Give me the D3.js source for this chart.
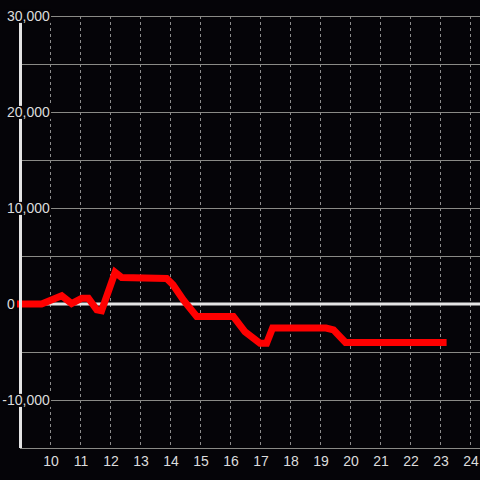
<!DOCTYPE html>
<html>
<head>
<meta charset="utf-8">
<script src="https://cdn.jsdelivr.net/npm/d3@7"></script>
<style>
  html, body { margin: 0; padding: 0; background: #050408; }
  svg { display: block; }
  text { font-family: "Liberation Sans", Arial, sans-serif; }
</style>
</head>
<body>
<svg id="chart" width="480" height="480"></svg>
<script>
// ---- data ----
const xValues = [8.9, 9.72, 10.39, 10.72, 11.06, 11.28, 11.56, 11.72, 12.17, 12.39, 13.89, 14.1, 14.45, 14.89, 16.11, 16.5, 17.0, 17.22, 17.42, 19.2, 19.45, 19.85, 23.22];
const yValues = [0, 0, 850, 50, 600, 600, -600, -700, 3300, 2750, 2650, 2000, 400, -1300, -1300, -2900, -4100, -4100, -2500, -2500, -2700, -4000, -4000];
const xTicks = [10, 11, 12, 13, 14, 15, 16, 17, 18, 19, 20, 21, 22, 23, 24];
const yTicks = [-10000, 0, 10000, 20000, 30000];
const yGrid = [-15000, -10000, -5000, 5000, 10000, 15000, 20000, 25000, 30000];

const svg = d3.select("#chart");
const W = 480, H = 480;
svg.append("rect").attr("width", W).attr("height", H).attr("fill", "#050408");

const x = d3.scaleLinear().domain([9, 24.3333]).range([20, 480]);
const y = d3.scaleLinear().domain([-15000, 30000]).range([448, 16]);
const fmt = d3.formatLocale({decimal: ".", thousands: ",", grouping: [3], currency: ["", ""], minus: "-"}).format(",");

// vertical dashed grid
svg.append("g").selectAll("line").data(xTicks).join("line")
  .attr("x1", d => Math.round(x(d)) + 0.5).attr("x2", d => Math.round(x(d)) + 0.5)
  .attr("y1", y(30000)).attr("y2", y(-15000))
  .attr("stroke", "#8c8c8c").attr("stroke-width", 1).attr("stroke-dasharray", "3,3");

// horizontal grid
svg.append("g").selectAll("line").data(yGrid).join("line")
  .attr("x1", 20).attr("x2", W)
  .attr("y1", d => Math.round(y(d)) + 0.5).attr("y2", d => Math.round(y(d)) + 0.5)
  .attr("stroke", "#8a8a86").attr("stroke-width", 1);

// zero line
svg.append("line")
  .attr("x1", 20).attr("x2", W).attr("y1", y(0)).attr("y2", y(0))
  .attr("stroke", "#e4e4e4").attr("stroke-width", 3);

// data line
const pts = xValues.map((v, i) => [v, yValues[i]]);
svg.append("path")
  .attr("d", d3.line().x(d => x(d[0])).y(d => y(d[1]))(pts))
  .attr("fill", "none").attr("stroke", "#ff0000").attr("stroke-width", 7)
  .attr("stroke-linejoin", "miter").attr("stroke-linecap", "butt");

// y axis line
svg.append("line")
  .attr("x1", 20.5).attr("x2", 20.5).attr("y1", y(30000)).attr("y2", y(-15000))
  .attr("stroke", "#e4e4e4").attr("stroke-width", 3);

// y labels with background
const yl = svg.append("g").selectAll("g").data(yTicks).join("g")
  .attr("transform", d => `translate(${d < 0 ? 2.3 : 7},${y(d)})`);
yl.append("text")
  .attr("dy", "0.35em").attr("font-size", 14).attr("fill", "#dcdcdc")
  .text(d => fmt(d));
yl.each(function() {
  const t = d3.select(this).select("text");
  const b = t.node().getBBox();
  d3.select(this).insert("rect", "text")
    .attr("x", b.x).attr("y", b.y + 2).attr("width", b.width + 1).attr("height", b.height - 3)
    .attr("fill", "#050408");
});

// x labels
svg.append("g").selectAll("text").data(xTicks).join("text")
  .attr("x", d => x(d) + 1).attr("y", 466)
  .attr("text-anchor", "middle").attr("font-size", 14).attr("fill", "#dcdcdc")
  .text(d => d);
</script>
</body>
</html>
